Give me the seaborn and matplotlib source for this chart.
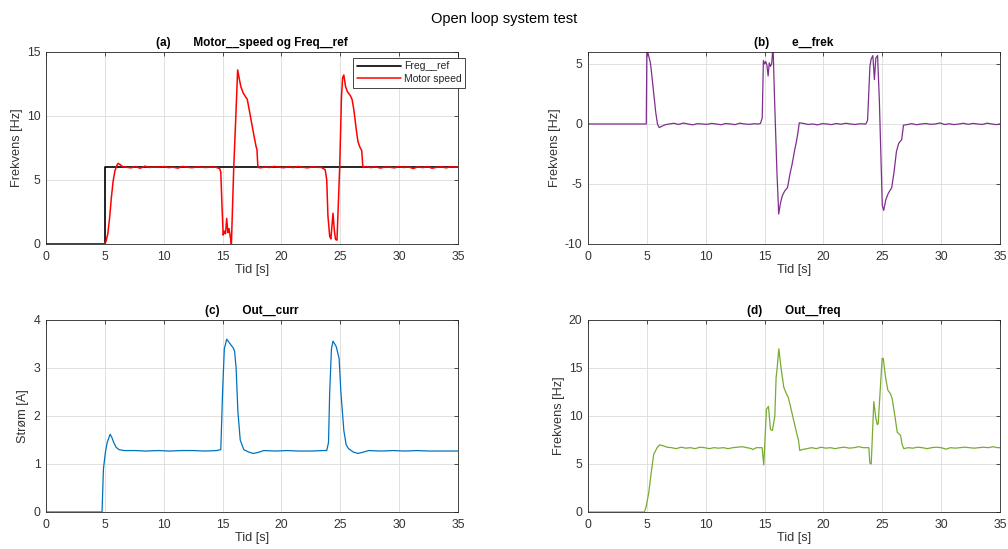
import matplotlib
matplotlib.use("Agg")
import matplotlib.pyplot as plt
import seaborn as sns

# ---------------- data ----------------
# (a) reference frequency
t_ref = [0, 5.0, 5.0, 35]
v_ref = [0, 0, 6.0, 6.0]

# (a) motor speed
t_speed = [0, 4.95, 5.1, 5.25, 5.4, 5.55, 5.7, 5.85, 6.0, 6.12, 6.3, 6.5,
           6.8, 7.2, 7.6, 8.0, 8.4, 8.8, 9.2, 9.6, 10.0, 10.4, 10.8, 11.2, 11.6, 12.0,
           12.4, 12.8, 13.2, 13.6, 14.0, 14.4,
           14.75, 14.85, 14.95, 15.05, 15.15, 15.25, 15.35, 15.45, 15.55, 15.65, 15.75,
           15.95, 16.15, 16.28, 16.4, 16.55, 16.75, 16.95, 17.1, 17.3, 17.5, 17.7, 17.85,
           17.92, 18.0,
           18.2, 18.6, 19.0, 19.4, 19.8, 20.2, 20.6, 21.0, 21.4, 21.8, 22.2, 22.6, 23.0, 23.4,
           23.72, 23.85, 23.95, 24.1, 24.2, 24.3, 24.38, 24.5, 24.6, 24.72, 24.95, 25.1,
           25.2, 25.3, 25.45, 25.6, 25.85, 26.0, 26.15, 26.35, 26.5, 26.65, 26.82, 26.92,
           27.2, 27.6, 28.0, 28.4, 28.8, 29.2, 29.6, 30.0, 30.4, 30.8, 31.2, 31.6, 32.0,
           32.4, 32.8, 33.2, 33.6, 34.0, 34.4, 34.8, 35.0]
v_speed = [0, 0, 0.2, 0.8, 2.0, 3.6, 4.9, 5.7, 6.1, 6.3, 6.2, 6.05,
           6.0, 5.95, 6.05, 5.92, 6.08, 5.98, 6.02, 6.0, 6.05, 5.97, 6.0, 5.93, 6.06, 6.0,
           5.96, 6.03, 6.0, 5.98, 6.02, 6.0,
           5.9, 5.6, 3.0, 0.7, 1.0, 0.8, 2.0, 0.9, 1.2, 0.6, 0.0,
           6.0, 10.5, 13.6, 13.0, 12.3, 11.8, 11.5, 11.3, 10.3, 9.3, 8.3, 7.6,
           7.4, 6.0,
           5.95, 6.02, 5.98, 6.06, 6.0, 5.96, 6.04, 5.97, 6.05, 6.0, 5.95, 6.03, 6.0, 5.98,
           5.8, 5.0, 2.2, 0.6, 0.4, 1.5, 2.4, 1.0, 0.35, 0.3, 6.0, 11.5,
           13.0, 13.2, 12.3, 11.9, 11.6, 11.3, 10.5, 9.0, 8.0, 7.6, 7.3, 6.0,
           6.05, 5.97, 6.04, 5.93, 6.02, 6.0, 5.95, 6.05, 5.98, 6.02, 5.9, 6.03, 5.97,
           6.05, 5.92, 6.0, 6.03, 5.95, 6.04, 6.0, 6.02]

# (b) frequency error
t_err = [0, 4.95, 5.0, 5.1, 5.2, 5.3, 5.45, 5.6, 5.75, 5.9, 6.05, 6.15, 6.35, 6.6,
         6.9, 7.3, 7.7, 8.1, 8.5, 8.9, 9.3, 9.7, 10.1, 10.5, 10.9, 11.3, 11.7, 12.1,
         12.5, 12.9, 13.3, 13.7, 14.1, 14.5,
         14.65, 14.8, 14.9, 15.0, 15.1, 15.2, 15.3, 15.4, 15.5, 15.6, 15.72, 15.85,
         16.05, 16.2, 16.35, 16.5, 16.7, 16.95, 17.15, 17.35, 17.55, 17.7, 17.82, 17.95,
         18.3, 18.7, 19.1, 19.5, 19.9, 20.3, 20.7, 21.1, 21.5, 21.9, 22.3, 22.7, 23.1,
         23.6, 23.75, 23.95, 24.05, 24.2, 24.33, 24.45, 24.6, 24.75, 25.0, 25.12, 25.3,
         25.5, 25.8, 26.0, 26.2, 26.4, 26.65, 26.8,
         27.1, 27.5, 27.9, 28.3, 28.7, 29.1, 29.5, 29.9, 30.3, 30.7, 31.1, 31.5, 31.9,
         32.3, 32.7, 33.1, 33.5, 33.9, 34.3, 34.7, 35.0]
v_err = [0, 0, 6.3, 5.9, 5.5, 5.1, 3.8, 2.4, 1.0, 0.0, -0.3, -0.25, -0.15, -0.05,
         0.0, 0.06, -0.04, 0.08, 0.0, -0.07, 0.03, 0.0, -0.03, 0.05, 0.0, -0.06, 0.04, 0.0,
         -0.05, 0.07, 0.0, -0.03, 0.02, 0.0,
         0.05, 0.5, 5.3, 5.0, 5.2, 4.9, 4.0, 5.1, 4.8, 5.0, 6.5, 2.0,
         -4.0, -7.5, -6.6, -6.0, -5.6, -5.3, -4.2, -3.3, -2.2, -1.5, -0.8, 0.1,
         0.05, -0.04, 0.0, -0.07, 0.03, 0.0, -0.05, 0.04, -0.02, 0.06, 0.0, -0.04, 0.02,
         0.0, 0.3, 4.8, 5.4, 5.7, 3.7, 5.5, 5.7, 2.0, -6.8, -7.2, -6.3,
         -5.8, -5.3, -4.0, -2.3, -1.6, -1.3, -0.1,
         -0.05, 0.03, -0.06, 0.0, 0.04, -0.03, 0.0, 0.09, -0.04, 0.02, -0.05, 0.0, 0.06,
         -0.03, 0.05, 0.0, -0.04, 0.07, 0.0, -0.05, 0.0]

# (c) output current
t_cur = [0, 4.76, 4.88, 5.05, 5.2, 5.45, 5.6, 5.75, 5.95, 6.2, 6.6,
         7.5, 8.5, 9.5, 10.5, 11.5, 12.5, 13.5, 14.5, 14.85,
         15.0, 15.15, 15.35, 15.65, 15.9, 16.02, 16.15, 16.3, 16.5, 16.8, 17.2, 17.6,
         18.0, 18.5, 19.5, 20.5, 21.5, 22.5, 23.5, 23.85,
         24.0, 24.1, 24.25, 24.38, 24.65, 24.9, 25.05, 25.3, 25.5, 25.7, 26.1, 26.5,
         27.0, 27.4, 28.5, 29.5, 30.5, 31.5, 32.5, 33.5, 34.5, 35.0]
v_cur = [0, 0, 0.9, 1.25, 1.45, 1.62, 1.55, 1.45, 1.35, 1.3, 1.28,
         1.28, 1.27, 1.28, 1.27, 1.28, 1.28, 1.27, 1.28, 1.3,
         2.5, 3.4, 3.6, 3.5, 3.42, 3.35, 3.0, 2.1, 1.5, 1.3, 1.25, 1.22,
         1.24, 1.28, 1.27, 1.28, 1.27, 1.27, 1.28, 1.28,
         1.45, 2.5, 3.4, 3.56, 3.45, 3.2, 2.5, 1.7, 1.4, 1.32, 1.25, 1.22,
         1.25, 1.28, 1.27, 1.28, 1.27, 1.28, 1.27, 1.27, 1.27, 1.27]

# (d) output frequency
t_out = [0, 4.79, 4.93, 5.16, 5.36, 5.58, 5.87, 6.09, 6.38, 6.72,
         7.1, 7.5, 7.9, 8.3, 8.7, 9.1, 9.5, 9.9, 10.3, 10.7, 11.1, 11.5, 11.9, 12.3,
         12.7, 13.1, 13.5, 13.9, 14.0, 14.3, 14.79,
         14.93, 15.16, 15.33, 15.5, 15.67, 15.87, 15.98, 16.07, 16.21, 16.4, 16.63,
         16.86, 17.0, 17.2, 17.48, 17.77, 17.88, 17.99, 18.19, 18.6,
         19.0, 19.4, 19.8, 20.2, 20.6, 21.0, 21.4, 21.8, 22.2, 22.6, 23.0, 23.4, 23.86,
         23.94, 24.06, 24.28, 24.45, 24.57, 24.65, 24.79, 24.99, 25.08, 25.28, 25.47,
         25.7, 25.84, 26.07, 26.27, 26.55, 26.69, 26.83,
         27.2, 27.6, 28.0, 28.4, 28.8, 29.2, 29.6, 30.0, 30.4, 30.8, 31.2, 31.6, 32.0,
         32.4, 32.8, 33.2, 33.6, 34.0, 34.4, 34.8, 35.0]
v_out = [0, 0, 0.5, 2.0, 4.0, 6.0, 6.7, 7.0, 6.9, 6.75,
         6.7, 6.6, 6.75, 6.65, 6.7, 6.6, 6.75, 6.7, 6.6, 6.7, 6.65, 6.7, 6.6, 6.7,
         6.75, 6.8, 6.7, 6.6, 6.5, 6.7, 6.7,
         4.9, 10.7, 11.0, 8.6, 8.5, 10.0, 14.0, 15.0, 17.0, 15.0, 13.0,
         12.3, 12.0, 11.0, 9.5, 8.0, 7.5, 6.4, 6.5, 6.6,
         6.7, 6.6, 6.75, 6.65, 6.7, 6.6, 6.7, 6.75, 6.65, 6.7, 6.8, 6.7, 6.7,
         5.1, 5.0, 11.5, 9.8, 9.1, 9.2, 12.0, 16.0, 16.0, 14.0, 12.7,
         12.3, 11.8, 10.0, 8.3, 8.0, 7.0, 6.6,
         6.7, 6.65, 6.75, 6.7, 6.6, 6.7, 6.75, 6.7, 6.55, 6.7, 6.65, 6.7, 6.75,
         6.7, 6.65, 6.7, 6.75, 6.7, 6.8, 6.7, 6.7]

# ---------------- style ----------------
sns.set_theme(style="whitegrid")
plt.rcParams["font.family"] = ["Liberation Sans", "DejaVu Sans"]
plt.rcParams["axes.unicode_minus"] = False
plt.rcParams["axes.edgecolor"] = "#262626"
plt.rcParams["axes.linewidth"] = 0.6
plt.rcParams["grid.color"] = "#dcdcdc"
plt.rcParams["grid.linewidth"] = 0.6

TICK_FS = 8.8
LABEL_FS = 9.2
TITLE_FS = 8.5
TXT = "#333333"

fig = plt.figure(figsize=(10.08, 5.49), dpi=100)
fig.suptitle("Open loop system test", fontsize=10.5, y=0.978, color="black")

W = 412 / 1008
H = 192 / 549
pos = {
    "a": [46 / 1008, 1 - 244 / 549, W, H],
    "b": [588 / 1008, 1 - 244 / 549, W, H],
    "c": [46 / 1008, 1 - 512 / 549, W, H],
    "d": [588 / 1008, 1 - 512 / 549, W, H],
}


def style_axis(ax, title, ylabel, ylim, yticks):
    ax.set_xlim(0, 35)
    ax.set_xticks(range(0, 36, 5))
    ax.set_ylim(*ylim)
    ax.set_yticks(yticks)
    ax.set_title(title, fontsize=TITLE_FS, fontweight="bold", pad=4, color="black")
    ax.set_xlabel("Tid [s]", fontsize=LABEL_FS, color=TXT, labelpad=1)
    ax.set_ylabel(ylabel, fontsize=LABEL_FS, color=TXT, labelpad=3)
    ax.tick_params(axis="x", pad=5)
    ax.tick_params(axis="y", pad=4)
    ax.tick_params(axis="both", labelsize=TICK_FS, colors=TXT, direction="in",
                   top=True, right=True, length=3, width=0.6)
    ax.grid(True, color="#dcdcdc", linewidth=0.6)
    for s in ax.spines.values():
        s.set_visible(True)
        s.set_color("#262626")
        s.set_linewidth(0.6)
    ax.set_facecolor("white")


# (a)
ax_a = fig.add_axes(pos["a"])
sns.lineplot(x=t_ref, y=v_ref, ax=ax_a, color="black", linewidth=1.2,
             estimator=None, sort=False, label="Freg__ref")
sns.lineplot(x=t_speed, y=v_speed, ax=ax_a, color="#ff0000", linewidth=1.1,
             estimator=None, sort=False, label="Motor speed")
style_axis(ax_a, "(a)       Motor__speed og Freq__ref", "Frekvens [Hz]",
           (0, 15), [0, 5, 10, 15])
leg = ax_a.legend(loc="upper right", bbox_to_anchor=(1.018, 0.97), fontsize=7.5,
                  frameon=True, fancybox=False, edgecolor="#262626", framealpha=1,
                  handlelength=4.2, borderpad=0.35, labelspacing=0.25,
                  handletextpad=0.3, borderaxespad=0)
leg.get_frame().set_linewidth(0.6)

# (b)
ax_b = fig.add_axes(pos["b"])
sns.lineplot(x=t_err, y=v_err, ax=ax_b, color="#7e2f8e", linewidth=0.9,
             estimator=None, sort=False)
style_axis(ax_b, "(b)       e__frek", "Frekvens [Hz]", (-10, 6), [-10, -5, 0, 5])

# (c)
ax_c = fig.add_axes(pos["c"])
sns.lineplot(x=t_cur, y=v_cur, ax=ax_c, color="#0072bd", linewidth=0.9,
             estimator=None, sort=False)
style_axis(ax_c, "(c)       Out__curr", "Strøm [A]", (0, 4), [0, 1, 2, 3, 4])

# (d)
ax_d = fig.add_axes(pos["d"])
sns.lineplot(x=t_out, y=v_out, ax=ax_d, color="#77ac30", linewidth=0.9,
             estimator=None, sort=False)
style_axis(ax_d, "(d)       Out__freq", "Frekvens [Hz]", (0, 20), [0, 5, 10, 15, 20])

fig.savefig("out.png", dpi=100, facecolor="white")
